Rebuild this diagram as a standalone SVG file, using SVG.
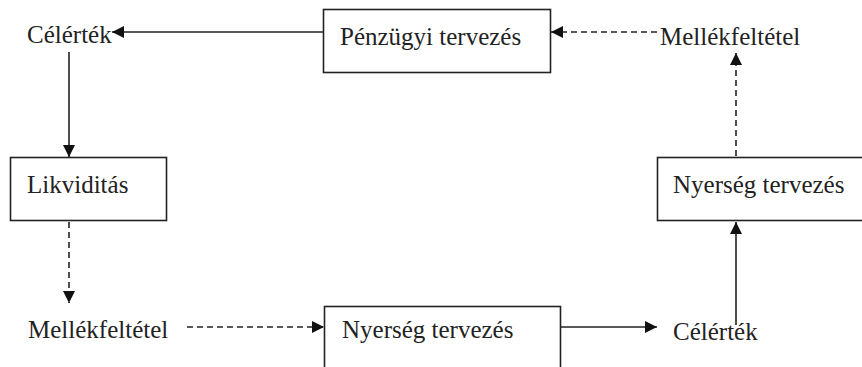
<svg xmlns="http://www.w3.org/2000/svg" width="862" height="367" viewBox="0 0 862 367">
  <style>
    .box { fill: #fff; stroke: #222; stroke-width: 1.6; }
    .lbl { font-family: 'Liberation Serif', Tinos, 'Times New Roman', 'DejaVu Serif', serif; font-size: 25px; fill: #222; }
    .link { fill: none; stroke: #222; stroke-width: 1.6; marker-end: url(#head); }
    .dash { stroke-dasharray: 6 4; }
  </style>
  <defs>
    <marker id="head" markerUnits="userSpaceOnUse" markerWidth="12" markerHeight="12" viewBox="0 0 12 12" refX="12" refY="6" orient="auto">
      <path d="M0,0 L12,6 L0,12 z" fill="#111"/>
    </marker>
  </defs>
  <rect width="862" height="367" fill="#fff"/>

  <g id="connectors">
    <!-- top: financial planning -> target value -->
    <line class="link" x1="323" y1="32" x2="112" y2="32"/>
    <!-- target value -> liquidity -->
    <line class="link" x1="69" y1="52" x2="69" y2="157"/>
    <!-- liquidity -> side condition -->
    <line class="link dash" x1="69" y1="222" x2="69" y2="303"/>
    <!-- side condition -> profit planning (bottom) -->
    <line class="link dash" x1="187" y1="327" x2="324" y2="327"/>
    <!-- profit planning (bottom) -> target value -->
    <line class="link" x1="560" y1="327" x2="657" y2="327"/>
    <!-- target value -> profit planning (right) -->
    <line class="link" x1="736" y1="325" x2="736" y2="222"/>
    <!-- profit planning (right) -> side condition -->
    <line class="link dash" x1="736" y1="156" x2="736" y2="53"/>
    <!-- side condition -> financial planning -->
    <line class="link dash" x1="657" y1="32" x2="551" y2="32"/>
  </g>

  <g id="penzugyi-tervezes">
    <rect class="box" x="323.5" y="9.5" width="227" height="63"/>
    <text class="lbl" x="340" y="45">Pénzügyi tervezés</text>
  </g>

  <g id="celertek-top">
    <text class="lbl" x="27" y="43">Célérték</text>
  </g>

  <g id="likviditas">
    <rect class="box" x="10.5" y="157.5" width="156" height="63"/>
    <text class="lbl" x="27" y="193">Likviditás</text>
  </g>

  <g id="mellekfeltetel-bottom">
    <text class="lbl" x="28" y="338">Mellékfeltétel</text>
  </g>

  <g id="nyerseg-tervezes-bottom">
    <rect class="box" x="324.5" y="306.5" width="236" height="70"/>
    <text class="lbl" x="342" y="338">Nyerség tervezés</text>
  </g>

  <g id="celertek-bottom">
    <text class="lbl" x="673" y="340">Célérték</text>
  </g>

  <g id="nyerseg-tervezes-right">
    <rect class="box" x="657.5" y="157.5" width="210" height="63"/>
    <text class="lbl" x="673" y="193">Nyerség tervezés</text>
  </g>

  <g id="mellekfeltetel-top">
    <text class="lbl" x="660" y="45">Mellékfeltétel</text>
  </g>
</svg>
